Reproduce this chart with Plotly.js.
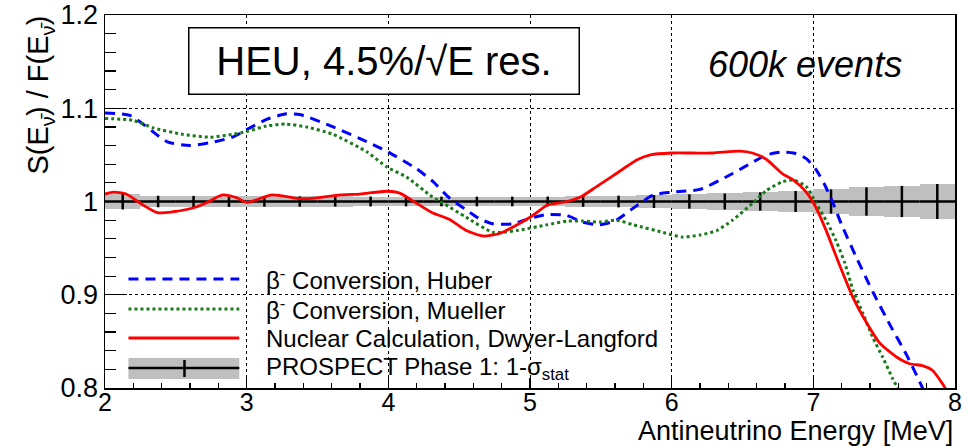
<!DOCTYPE html>
<html>
<head>
<meta charset="utf-8">
<script src="https://cdn.plot.ly/plotly-3.0.1.min.js"></script>
<style>html,body{margin:0;padding:0;background:#fff;}#chart{width:963px;height:447px;}</style>
</head>
<body>
<div id="chart"></div>
<script>
// ---- Data ----
const huberE = [2.0,2.18,2.44,2.6,2.74,2.9,3.0,3.14,3.28,3.38,3.61,3.85,4.0,4.2,4.31,4.43,4.55,4.65,4.74,4.88,5.0,5.12,5.26,5.37,5.49,5.61,5.73,5.87,6.0,6.2,6.43,6.57,6.67,6.78,6.86,6.95,7.02,7.08,7.14,7.2,7.31,7.42,7.54,7.66,7.75,7.8];
const huber  = [1.095,1.092,1.064,1.06,1.063,1.069,1.077,1.088,1.094,1.093,1.08,1.064,1.053,1.035,1.022,1.004,0.991,0.981,0.976,0.976,0.982,0.986,0.985,0.978,0.975,0.98,0.993,1.007,1.01,1.013,1.03,1.042,1.05,1.053,1.052,1.046,1.034,1.018,0.998,0.975,0.938,0.903,0.868,0.835,0.807,0.79];

const muellerE = [2.0,2.2,2.34,2.55,2.74,2.9,3.0,3.14,3.28,3.42,3.61,3.85,3.99,4.13,4.31,4.39,4.55,4.74,4.91,5.12,5.26,5.37,5.49,5.61,5.73,5.96,6.07,6.2,6.32,6.43,6.57,6.67,6.78,6.86,6.95,7.02,7.1,7.16,7.22,7.28,7.35,7.42,7.49,7.56,7.63];
const mueller  = [1.089,1.087,1.079,1.072,1.069,1.072,1.075,1.081,1.083,1.08,1.072,1.053,1.037,1.026,1.005,0.998,0.983,0.967,0.969,0.975,0.979,0.979,0.978,0.98,0.975,0.966,0.962,0.964,0.969,0.98,0.998,1.012,1.021,1.023,1.016,0.998,0.977,0.958,0.935,0.905,0.88,0.854,0.833,0.81,0.79];

const dwyerE = [2.0,2.06,2.15,2.25,2.37,2.48,2.62,2.72,2.83,2.93,3.0,3.18,3.38,3.5,3.66,3.8,3.99,4.08,4.2,4.31,4.43,4.55,4.67,4.79,4.91,5.02,5.12,5.26,5.37,5.47,5.59,5.76,5.85,6.0,6.15,6.29,6.48,6.57,6.67,6.78,6.86,6.95,7.02,7.09,7.19,7.28,7.38,7.47,7.59,7.68,7.77,7.84,7.91,7.97];
const dwyer  = [1.008,1.01,1.008,0.998,0.988,0.989,0.993,0.999,1.007,1.004,0.999,1.007,1.003,1.004,1.007,1.008,1.011,1.009,0.998,0.988,0.981,0.969,0.963,0.966,0.975,0.985,0.996,1.0,1.006,1.016,1.028,1.045,1.05,1.052,1.052,1.052,1.054,1.052,1.045,1.03,1.023,1.01,0.993,0.969,0.93,0.897,0.869,0.848,0.833,0.826,0.824,0.819,0.805,0.79];

const binCenters = [2.125,2.375,2.625,2.875,3.125,3.375,3.625,3.875,4.125,4.375,4.625,4.875,5.125,5.375,5.625,5.875,6.125,6.375,6.625,6.875,7.125,7.375,7.625,7.875];
const binRatio   = [1,1,1,1,1,1,1,1,1,1,1,1,1,1,1,1,1,1,1,1,1,1,1,1];
const statErr    = [0.0085,0.0062,0.006,0.0058,0.0056,0.0055,0.0054,0.0053,0.0052,0.0052,0.0052,0.0052,0.0053,0.0057,0.0063,0.007,0.0077,0.0086,0.0098,0.0113,0.013,0.0152,0.0167,0.0188];
const binWidth = 0.25;

const legendLabels = ['β<sup>-</sup> Conversion, Huber','β<sup>-</sup> Conversion, Mueller','Nuclear Calculation, Dwyer-Langford','PROSPECT Phase 1: 1-σ<sub>stat</sub>'];

const FONT = '"Liberation Sans", Arial, Helvetica, sans-serif';

const traces = [
  { type:'bar', x:binCenters, y:statErr.map(e=>2*e), base:binRatio.map((r,i)=>r-statErr[i]),
    width:binWidth, marker:{color:'#bfbfbf', line:{width:0}}, hoverinfo:'skip' },
  { type:'scatter', mode:'markers', x:binCenters, y:binRatio,
    marker:{size:1, color:'black'},
    error_y:{type:'data', array:statErr, color:'black', thickness:2.5, width:0},
    error_x:{type:'constant', value:binWidth/2, color:'black', thickness:2.5, width:0} },
  { type:'scatter', mode:'lines', x:huberE, y:huber,
    line:{color:'#0000ff', width:3, dash:'10px,7px', shape:'spline', smoothing:0.6} },
  { type:'scatter', mode:'lines', x:muellerE, y:mueller,
    line:{color:'#187a18', width:3, dash:'3px,3px', shape:'spline', smoothing:0.6} },
  { type:'scatter', mode:'lines', x:dwyerE, y:dwyer,
    line:{color:'#ff0000', width:2.8, shape:'spline', smoothing:0.6} }
];

const lx0 = 0.0276, lx1 = 0.158, ltx = 0.1876;
const ly = [0.292, 0.212, 0.134, 0.0536];

const shapes = [
  {type:'line', xref:'paper', yref:'paper', x0:lx0, x1:lx1, y0:ly[0], y1:ly[0], line:{color:'#0000ff', width:3, dash:'10px,7px'}},
  {type:'line', xref:'paper', yref:'paper', x0:lx0, x1:lx1, y0:ly[1], y1:ly[1], line:{color:'#187a18', width:3, dash:'3px,3px'}},
  {type:'line', xref:'paper', yref:'paper', x0:lx0, x1:lx1, y0:ly[2], y1:ly[2], line:{color:'#ff0000', width:3}},
  {type:'rect', xref:'paper', yref:'paper', x0:lx0, x1:lx1, y0:0.0241, y1:0.0804, fillcolor:'#bfbfbf', line:{width:0}},
  {type:'line', xref:'paper', yref:'paper', x0:lx0, x1:lx1, y0:ly[3], y1:ly[3], line:{color:'black', width:2.5}},
  {type:'line', xref:'paper', yref:'paper', x0:0.0935, x1:0.0935, y0:0.0295, y1:0.075, line:{color:'black', width:2.5}}
];

const annotations = legendLabels.map((t,i)=>({
  text:t, xref:'paper', yref:'paper', x:ltx, y:ly[i], xanchor:'left', yanchor:'middle',
  showarrow:false, font:{family:FONT, size:24, color:'black'}
}));
annotations.push(
  {text:'HEU, 4.5%/√E res.', xref:'paper', yref:'paper', x:0.3288, y:0.8767, xanchor:'center', yanchor:'middle',
   showarrow:false, font:{family:FONT, size:40, color:'black'}, bordercolor:'black', borderwidth:1.5,
   borderpad:0, width:389, height:65, bgcolor:'white'},
  {text:'<i>600k events</i>', xref:'paper', yref:'paper', x:0.823, y:0.866, xanchor:'center', yanchor:'middle',
   showarrow:false, font:{family:FONT, size:36, color:'black'}},
  {text:'Antineutrino Energy [MeV]', xref:'paper', yref:'paper', x:1.0, y:-0.1166, xanchor:'right', yanchor:'middle',
   showarrow:false, font:{family:FONT, size:27, color:'black'}},
  {text:'S(E<sub>ν̄</sub>) / F(E<sub>ν̄</sub>)', xref:'paper', yref:'paper', x:-0.0759, y:0.7855, xanchor:'center', yanchor:'middle',
   textangle:-90, showarrow:false, font:{family:FONT, size:29, color:'black'}}
);

const axisCommon = {
  ticks:'inside', tickcolor:'black', tickwidth:1.2, showline:true, linecolor:'black', linewidth:1.5, mirror:true,
  showgrid:true, gridcolor:'black', gridwidth:1, griddash:'dot', zeroline:false
};

const layout = {
  width:963, height:447, margin:{l:105, r:8, t:15, b:59},
  paper_bgcolor:'white', plot_bgcolor:'white', showlegend:false, hovermode:false, barmode:'overlay', bargap:0,
  xaxis:Object.assign({}, axisCommon, {range:[2,8], tick0:2, dtick:1, ticklen:10, ticklabelstandoff:-9,
    tickfont:{family:FONT, size:25, color:'black'},
    minor:{dtick:0.2, ticks:'inside', ticklen:5, tickcolor:'black', tickwidth:1.2, showgrid:false}}),
  yaxis:Object.assign({}, axisCommon, {range:[0.8,1.2], tick0:0.8, dtick:0.1, ticklen:22,
    tickfont:{family:FONT, size:27, color:'black'},
    minor:{dtick:0.02, ticks:'inside', ticklen:11, tickcolor:'black', tickwidth:1.2, showgrid:false}}),
  shapes:shapes, annotations:annotations
};

Plotly.newPlot('chart', traces, layout, {staticPlot:true, displayModeBar:false});
</script>
</body>
</html>
